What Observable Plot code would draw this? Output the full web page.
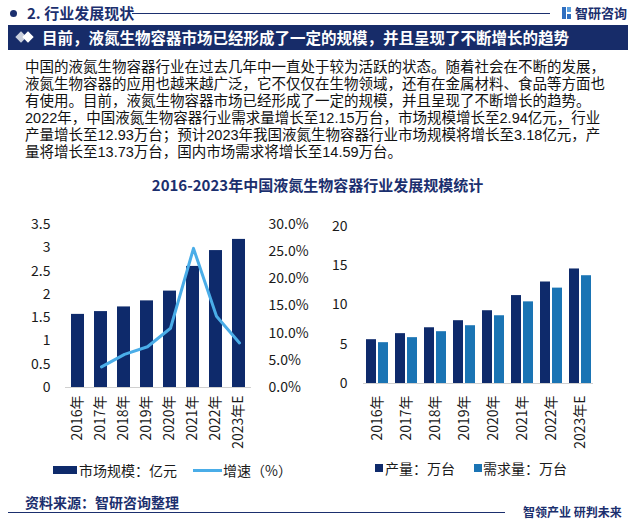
<!DOCTYPE html>
<html><head><meta charset="utf-8">
<script src="https://cdn.jsdelivr.net/npm/d3@7"></script>
<script src="https://cdn.jsdelivr.net/npm/@observablehq/plot@0.6"></script>
<style>
body{margin:0;background:#fff;font-family:"Noto Sans CJK SC","Noto Sans",sans-serif;}
#page{position:relative;width:635px;height:523px;overflow:hidden;background:#fff;}
.abs{position:absolute;white-space:nowrap;}
.para{font-family:"Liberation Sans","Noto Sans CJK SC",sans-serif;font-size:14.5px;line-height:17px;height:17px;color:#111;}
.leg{font-size:14px;color:#1a1a1a;line-height:14px;}
</style></head><body><div id="page"></div>
<script>
// ---- data ----
const years = ["2016年","2017年","2018年","2019年","2020年","2021年","2022年","2023年E"];
const marketSize = [1.57,1.63,1.73,1.86,2.07,2.6,2.94,3.18];      // 亿元
const growthRate = [null,3.8,6.1,7.5,10.9,25.6,13.1,8.2];          // %
const production = [5.58,6.35,7.1,8.0,9.27,11.2,12.93,14.59];       // 万台
const demand = [5.2,5.84,6.6,7.36,8.63,10.4,12.15,13.73];           // 万台
const leftTicks = [0,0.5,1,1.5,2,2.5,3,3.5];
const rightPctTicks = [0,5,10,15,20,25,30];
const qtyTicks = [0,5,10,15,20];
const paragraphLines = [
  "中国的液氮生物容器行业在过去几年中一直处于较为活跃的状态。随着社会在不断的发展，",
  "液氮生物容器的应用也越来越广泛，它不仅仅在生物领域，还有在金属材料、食品等方面也",
  "有使用。目前，液氮生物容器市场已经形成了一定的规模，并且呈现了不断增长的趋势。",
  "2022年，中国液氮生物容器行业需求量增长至12.15万台，市场规模增长至2.94亿元，行业",
  "产量增长至12.93万台；预计2023年我国液氮生物容器行业市场规模将增长至3.18亿元，产",
  "量将增长至13.73万台，国内市场需求将增长至14.59万台。"
];

const NAVY = "#0e2a6b", BLUE = "#1a74b4", LINE = "#4aade8", HEAD = "#1b2f6e";
const page = document.getElementById("page");
function el(tag, css, html, cls){const e=document.createElement(tag);e.className="abs"+(cls?" "+cls:"");e.style.cssText=css;if(html!=null)e.innerHTML=html;page.appendChild(e);return e;}

// ---- header ----
el("div",`left:10px;top:10px;width:7px;height:7px;border-radius:50%;background:${HEAD};`);
el("div",`left:27px;top:3px;font-size:15px;font-weight:bold;color:${HEAD};line-height:20px;`,"2. 行业发展现状");
el("div",`left:132px;top:13px;width:418px;height:1px;background:${HEAD};`);
el("div",`left:562px;top:7px;width:4px;height:12px;background:#2f6fc0;`);
el("div",`left:567px;top:7px;width:4px;height:5px;background:#5aa0e0;`);
el("div",`left:567px;top:14px;width:4px;height:5px;background:#2f6fc0;`);
el("div",`left:575px;top:3px;font-size:13px;font-weight:bold;color:${HEAD};line-height:20px;`,"智研咨询");

// ---- banner ----
el("div",`left:8px;top:25px;width:620px;height:25px;background:#172c69;`);
el("div",`left:17px;top:33px;width:8px;height:8px;background:#c9cfdc;transform:rotate(45deg);`);
el("div",`left:24px;top:33px;width:8px;height:8px;background:#ffffff;transform:rotate(45deg);`);
el("div",`left:42px;top:25px;font-size:15.5px;font-weight:bold;color:#fff;line-height:25px;`,"目前，液氮生物容器市场已经形成了一定的规模，并且呈现了不断增长的趋势");

// ---- paragraph ----
paragraphLines.forEach((t,i)=>el("div",`left:25px;top:${59+i*17}px;`,t,"para"));

// ---- chart title ----
el("div",`left:0;width:635px;top:175px;text-align:center;font-size:15px;font-weight:bold;color:${HEAD};line-height:20px;`,"2016-2023年中国液氮生物容器行业发展规模统计");

// ---- left chart: market size bars + growth line ----
const marketData = years.map((y,i)=>({year:y, value:marketSize[i]}));
const growthData = years.map((y,i)=>({year:y, value:growthRate[i]})).filter(d=>d.value!=null);
const baseStyle = {fontSize:"14px", fontFamily:'"Noto Sans CJK SC","Noto Sans",sans-serif', color:"#1a1a1a", background:"transparent", overflow:"visible"};
const xBandLeft = {domain:years, paddingInner:0.42, paddingOuter:0.13};

const leftBars = Plot.plot({
  width:320, height:245, marginTop:19, marginBottom:63, marginLeft:65, marginRight:69,
  style: baseStyle,
  x: {...xBandLeft, label:null, tickSize:0, tickPadding:8, tickRotate:-90},
  y: {domain:[0,3.5], ticks:leftTicks, tickFormat:d=>String(d), label:null, tickSize:0, tickPadding:15},
  marks: [
    Plot.barY(marketData, {x:"year", y:"value", fill:NAVY}),
    Plot.ruleY([0], {stroke:"#d0d0d0"})
  ]
});
const leftLine = Plot.plot({
  width:320, height:245, marginTop:19, marginBottom:63, marginLeft:65, marginRight:69,
  style: baseStyle,
  x: {...xBandLeft, axis:null},
  y: {domain:[0,30], ticks:rightPctTicks, axis:"right", tickFormat:d=>d.toFixed(1)+"%", label:null, tickSize:0, tickPadding:17},
  marks: [
    Plot.line(growthData, {x:"year", y:"value", stroke:LINE, strokeWidth:3})
  ]
});
const lw1 = el("div","left:0;top:205px;"); lw1.appendChild(leftBars);
const lw2 = el("div","left:0;top:205px;"); lw2.appendChild(leftLine);

// ---- right chart: production & demand ----
const qtyData = years.map((y,i)=>({year:y, production:production[i], demand:demand[i]}));
const rightChart = Plot.plot({
  width:315, height:245, marginTop:21, marginBottom:67, marginLeft:43, marginRight:42,
  style: baseStyle,
  x: {domain:years, paddingInner:0.25, paddingOuter:0, label:null, tickSize:0, tickPadding:12, tickRotate:-90},
  y: {domain:[0,20], ticks:qtyTicks, tickFormat:d=>String(d), label:null, tickSize:0, tickPadding:16},
  marks: [
    Plot.barY(qtyData, {x:"year", y:"production", fill:NAVY, insetRight:12}),
    Plot.barY(qtyData, {x:"year", y:"demand", fill:BLUE, insetLeft:12}),
    Plot.ruleY([0], {stroke:"#d0d0d0"})
  ]
});
const rw = el("div","left:320px;top:205px;"); rw.appendChild(rightChart);

// ---- legends ----
el("div",`left:53px;top:466px;width:24px;height:8px;background:${NAVY};`);
el("div",`left:79px;top:463px;`,"市场规模：亿元","leg");
el("div",`left:193px;top:469px;width:29px;height:3px;background:${LINE};`);
el("div",`left:223px;top:463px;`,"增速（%）","leg");
el("div",`left:375px;top:464px;width:8px;height:8px;background:${NAVY};`);
el("div",`left:385px;top:461px;`,"产量：万台","leg");
el("div",`left:474px;top:464px;width:8px;height:8px;background:${BLUE};`);
el("div",`left:483px;top:461px;`,"需求量：万台","leg");

// ---- footer ----
el("div",`left:25px;top:492px;font-size:14px;font-weight:bold;color:${HEAD};line-height:20px;`,"资料来源：智研咨询整理");
el("div",`left:8px;top:512px;width:497px;height:1px;background:${HEAD};`);
el("div",`left:523px;top:504px;font-size:12px;font-weight:bold;color:${HEAD};line-height:16px;`,"智领产业 研判未来");
</script></body></html>
